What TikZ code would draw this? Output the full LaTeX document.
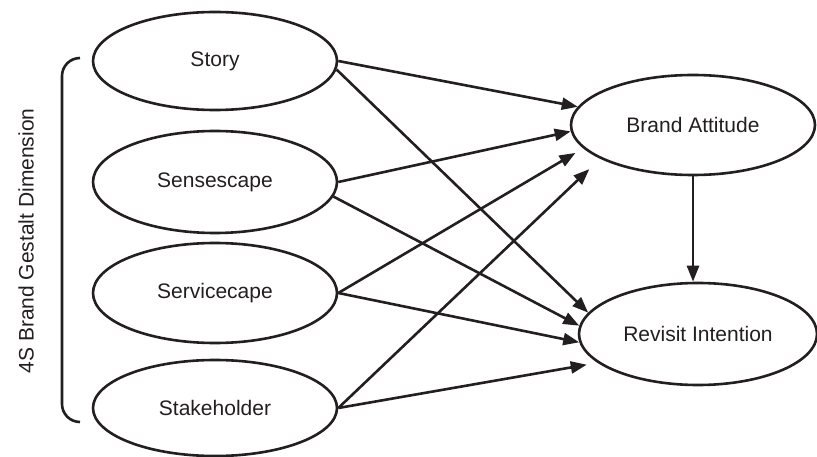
\documentclass[tikz,border=0pt]{standalone}
\usepackage{fontspec}
\setmainfont{Liberation Sans}
\usetikzlibrary{shapes.geometric,arrows.meta}
\definecolor{ink}{HTML}{231F20}
\begin{document}
\begin{tikzpicture}[x=1pt,y=-1pt,
  construct/.style={ellipse,draw=ink,line width=2.6pt,minimum width=244pt,minimum height=98pt,inner sep=0pt,font=\fontsize{21}{25}\selectfont,text=ink},
  path/.style={draw=ink,line width=2.6pt,-{Triangle[length=16pt,width=12pt]}}]
\useasboundingbox (0,0) rectangle (817,457);
\node[construct] (story) at (215,61) {Story};
\node[construct,minimum height=102pt] (sense) at (215,182) {Sensescape};
\node[construct,minimum height=100pt] (service) at (215,293) {Servicecape};
\node[construct,minimum height=96pt] (stake) at (215,408) {Stakeholder};
\node[construct,minimum height=100pt] (ba) at (693,125) {Brand Attitude};
\node[construct,minimum width=238pt,minimum height=102pt] (ri) at (698,334) {Revisit Intention};
\node[rotate=90,font=\fontsize{21}{25}\selectfont,text=ink] (dim) at (26,241) {4S Brand Gestalt Dimension};
\coordinate (brtop) at (80,58);
\coordinate (brbot) at (80,422);
\draw[ink,line width=2.6pt,rounded corners=18pt] (brtop) -- (62,58) -- (62,422) -- (brbot);
\draw[path] (story.east) -- (ba.171);
\draw[path] (story.-4) -- (ri.169);
\draw[path] (sense.east) -- (ba.183);
\draw[path] (sense.-7) -- (ri.176);
\draw[path,shorten >=9pt] (service.east) -- (ba.192);
\draw[path] (service.east) -- (ri.184);
\draw[path,shorten >=15pt] (stake.east) -- (ba.200);
\draw[path,shorten >=11pt] (stake.east) -- (ri.196);
\draw[path] (ba.south) -- (ba.south |- ri.north);
\end{tikzpicture}
\end{document}
